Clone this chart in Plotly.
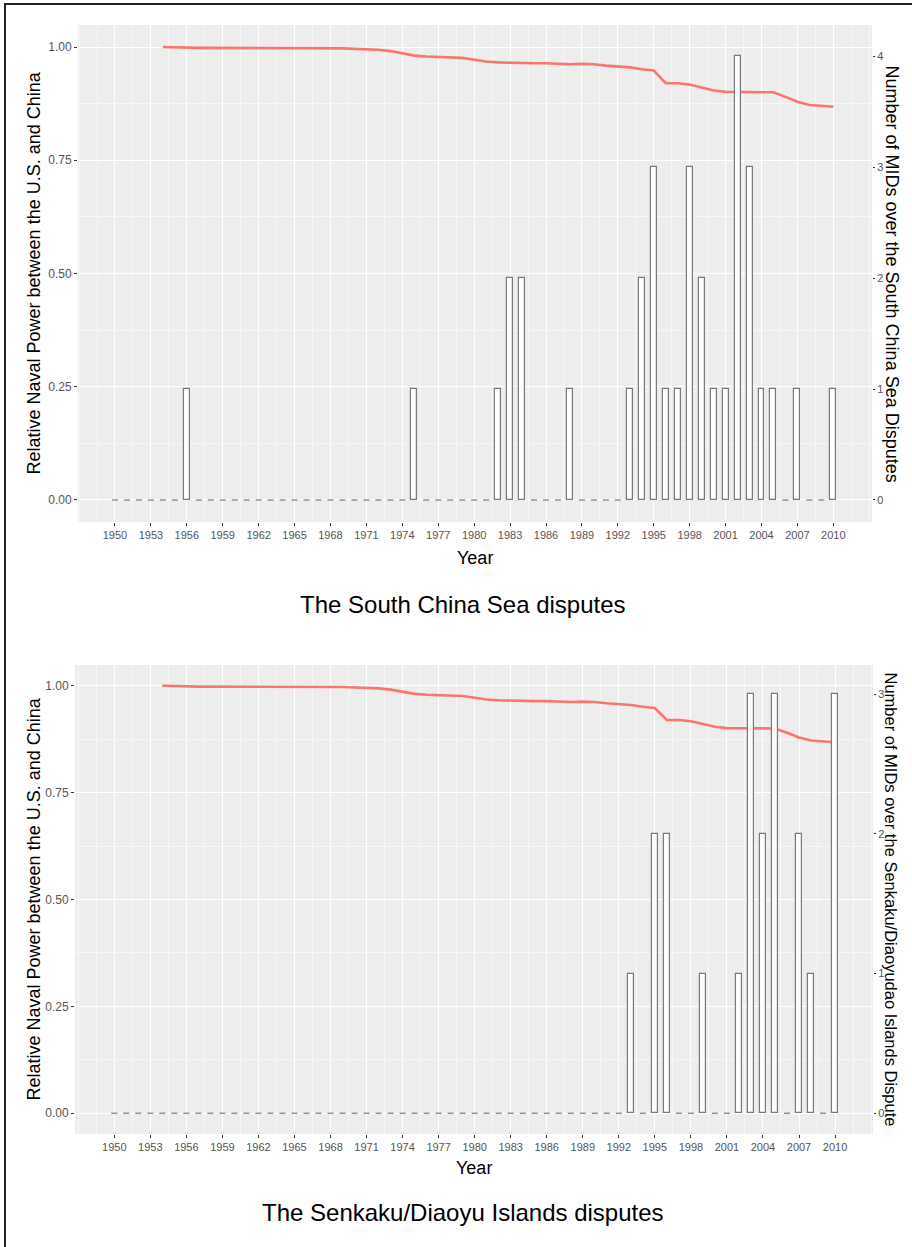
import plotly.graph_objects as go

# ---------------- data ----------------
all_years = list(range(1950, 2011))

power_years = list(range(1954, 2011))
naval_power = [1.000, 0.999, 0.998, 0.998, 0.998, 0.998, 0.998, 0.998, 0.998, 0.998,
               0.998, 0.998, 0.998, 0.998, 0.997, 0.997, 0.996, 0.995, 0.994, 0.991,
               0.986, 0.981, 0.979, 0.978, 0.977, 0.976, 0.972, 0.968, 0.966, 0.965,
               0.964, 0.964, 0.964, 0.963, 0.962, 0.963, 0.962, 0.959, 0.957, 0.955,
               0.951, 0.948, 0.920, 0.920, 0.917, 0.910, 0.904, 0.901, 0.901, 0.901,
               0.901, 0.900, 0.890, 0.879, 0.872, 0.870, 0.868]

scs_years = [1956, 1975, 1982, 1983, 1984, 1988, 1993, 1994, 1995, 1996, 1997,
             1998, 1999, 2000, 2001, 2002, 2003, 2004, 2005, 2007, 2010]
scs_mids = [1, 1, 1, 2, 2, 1, 1, 2, 3, 1, 1, 3, 2, 1, 1, 4, 3, 1, 1, 1, 1]

sk_years = [1993, 1995, 1996, 1999, 2002, 2003, 2004, 2005, 2007, 2008, 2010]
sk_mids = [1, 2, 2, 1, 1, 3, 2, 3, 2, 1, 3]

left_ticks = [0.0, 0.25, 0.5, 0.75, 1.0]
left_ticklabels = ["0.00", "0.25", "0.50", "0.75", "1.00"]
year_ticks = list(range(1950, 2011, 3))

title_top = "The South China Sea disputes"
title_bottom = "The Senkaku/Diaoyu Islands disputes"
ytitle_left = "Relative Naval Power between the U.S. and China"
ytitle_right_top = "Number of MIDs over the South China Sea Disputes"
ytitle_right_bottom = "Number of MIDs over the Senkaku/Diaoyudao Islands Dispute"
xtitle = "Year"

# ---------------- styling ----------------
W, H = 912, 1247
FONT = "Liberation Sans, Arial, sans-serif"
LINE_COLOR = "#F8766D"
BAR_EDGE = "#7a7a7a"
TICK_COLOR = "#555555"
BAR_W = 0.5


def px_x(p):
    return p / W


def px_y(p):
    return 1 - p / H


def zero_dash(years_all, yrs, counts):
    d = dict(zip(yrs, counts))
    xs, ys = [], []
    for yr in years_all:
        if d.get(yr, 0) == 0:
            xs += [yr - BAR_W / 2, yr + BAR_W / 2, None]
            ys += [0, 0, None]
    return xs, ys


fig = go.Figure()

panels = [
    dict(xa="x", yl="y", yr="y2", yrs=scs_years, cnt=scs_mids,
         box=(78, 25, 872, 522), xr=[1946.91, 2013.23]),
    dict(xa="x2", yl="y3", yr="y4", yrs=sk_years, cnt=sk_mids,
         box=(75, 665, 873, 1134), xr=[1946.73, 2013.16]),
]

for p in panels:
    fig.add_trace(go.Scatter(x=power_years, y=naval_power, mode="lines",
                             line=dict(color=LINE_COLOR, width=2.6),
                             xaxis=p["xa"], yaxis=p["yl"], showlegend=False,
                             hoverinfo="skip"))
    fig.add_trace(go.Bar(x=p["yrs"], y=p["cnt"], width=BAR_W,
                         marker=dict(color="white", line=dict(color=BAR_EDGE, width=1.2)),
                         xaxis=p["xa"], yaxis=p["yr"], showlegend=False))
    zx, zy = zero_dash(all_years, p["yrs"], p["cnt"])
    fig.add_trace(go.Scatter(x=zx, y=zy, mode="lines",
                             line=dict(color=BAR_EDGE, width=1.2),
                             xaxis=p["xa"], yaxis=p["yr"], showlegend=False,
                             hoverinfo="skip"))

left_range = [-0.0486, 1.0486]

common_x = dict(tickmode="array", tickvals=year_ticks, ticktext=[str(y) for y in year_ticks],
                showgrid=True, gridcolor="white", gridwidth=1.3, zeroline=False,
                ticks="outside", ticklen=3, tickcolor="#333333", tickwidth=1,
                tickfont=dict(family=FONT, size=11, color=TICK_COLOR),
                minor=dict(dtick=1.5, tick0=1950, showgrid=True, gridcolor="#F7F7F7",
                           gridwidth=0.8, ticks=""),
                showline=False, fixedrange=True)

common_yl = dict(range=left_range, tickmode="array", tickvals=left_ticks,
                 ticktext=left_ticklabels, showgrid=True, gridcolor="white", gridwidth=1.3,
                 zeroline=False, ticks="outside", ticklen=3, tickcolor="#333333",
                 tickfont=dict(family=FONT, size=12, color=TICK_COLOR),
                 minor=dict(dtick=0.125, tick0=0, showgrid=True, gridcolor="#F7F7F7",
                            gridwidth=0.8, ticks=""),
                 showline=False, fixedrange=True)

common_yr = dict(showgrid=False, zeroline=False, ticks="outside", ticklen=2,
                 tickcolor="#333333", dtick=1, tick0=0,
                 tickfont=dict(family=FONT, size=11, color=TICK_COLOR),
                 showline=False, fixedrange=True, side="right")

top_max = max(scs_mids)
bot_max = max(sk_mids)
k_top = top_max / 0.98
k_bot = bot_max / 0.98

b1 = panels[0]["box"]
b2 = panels[1]["box"]

fig.update_layout(
    width=W, height=H,
    margin=dict(l=0, r=0, t=0, b=0),
    paper_bgcolor="white",
    plot_bgcolor="#EDEDED",
    bargap=0,
    font=dict(family=FONT),
    xaxis=dict(common_x, domain=[px_x(b1[0]), px_x(b1[2])], range=panels[0]["xr"], anchor="y"),
    yaxis=dict(common_yl, domain=[px_y(b1[3]), px_y(b1[1])], anchor="x"),
    yaxis2=dict(common_yr, overlaying="y", anchor="x",
                range=[left_range[0] * k_top, left_range[1] * k_top]),
    xaxis2=dict(common_x, domain=[px_x(b2[0]), px_x(b2[2])], range=panels[1]["xr"], anchor="y3"),
    yaxis3=dict(common_yl, domain=[px_y(b2[3]), px_y(b2[1])], anchor="x2"),
    yaxis4=dict(common_yr, overlaying="y3", anchor="x2",
                range=[left_range[0] * k_bot, left_range[1] * k_bot]),
)

ann = []
def add_text(text, x, y, size, angle=0):
    ann.append(dict(text=text, x=px_x(x), y=px_y(y), xref="paper", yref="paper",
                    showarrow=False, textangle=angle, xanchor="center", yanchor="middle",
                    font=dict(family=FONT, size=size, color="black")))

add_text(ytitle_left, 34, (b1[1] + b1[3]) / 2, 18, -90)
add_text(ytitle_right_top, 891, (b1[1] + b1[3]) / 2, 18, 90)
add_text(xtitle, 475, 558, 18)
add_text(title_top, 463, 604, 24)
add_text(ytitle_left, 33, (b2[1] + b2[3]) / 2, 18, -90)
add_text(ytitle_right_bottom, 891, (b2[1] + b2[3]) / 2, 16.5, 90)
add_text(xtitle, 474, 1168, 18)
add_text(title_bottom, 463, 1212, 24)

fig.update_layout(annotations=ann)

fig.update_layout(shapes=[
    dict(type="line", xref="paper", yref="paper", x0=px_x(5), x1=px_x(5), y0=0, y1=px_y(3),
         line=dict(color="#222222", width=2)),
    dict(type="line", xref="paper", yref="paper", x0=px_x(4), x1=1, y0=px_y(4), y1=px_y(4),
         line=dict(color="#222222", width=2)),
])

fig.write_html("out.html", config={"displayModeBar": False},
               post_script="document.body.style.margin='0';document.body.style.overflow='hidden';")
